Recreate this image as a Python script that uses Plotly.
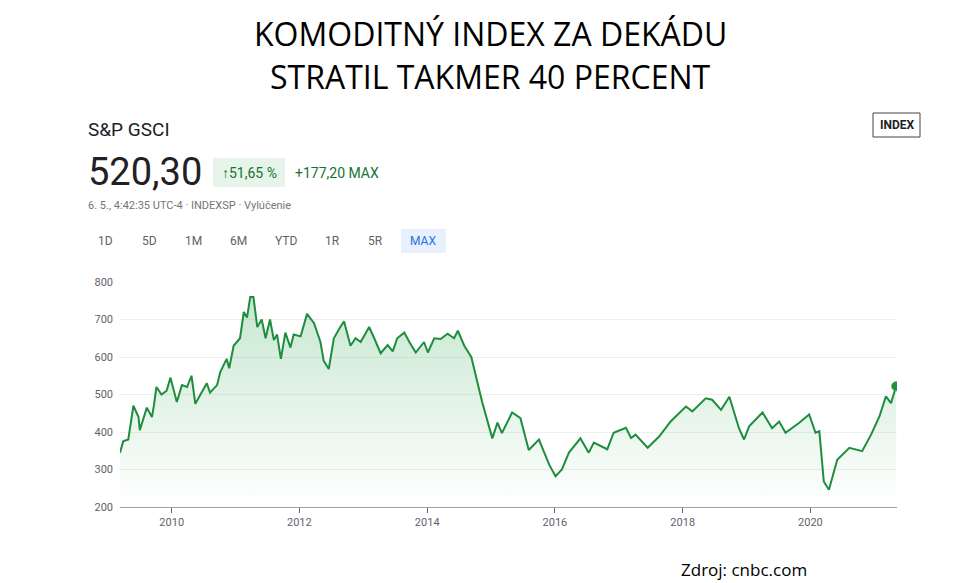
import plotly.graph_objects as go
import pandas as pd

years = [2009.19,2009.24,2009.32,2009.40,2009.48,2009.50,2009.61,2009.69,2009.72,2009.76,2009.84,2009.92,2009.98,
2010.08,2010.16,2010.24,2010.31,2010.37,2010.45,2010.55,2010.60,2010.71,2010.76,2010.86,2010.90,2010.97,
2011.07,2011.13,2011.18,2011.23,2011.28,2011.34,2011.41,2011.47,2011.54,2011.60,2011.65,2011.71,2011.78,2011.86,2011.91,
2012.02,2012.12,2012.23,2012.33,2012.38,2012.46,2012.54,2012.64,2012.70,2012.80,2012.88,2012.96,
2013.09,2013.17,2013.27,2013.38,2013.46,2013.53,2013.64,2013.72,2013.82,2013.95,
2014.01,2014.11,2014.21,2014.32,2014.42,2014.48,2014.58,2014.69,2014.79,2014.86,
2015.02,2015.10,2015.17,2015.33,2015.46,2015.59,2015.75,2015.91,
2016.01,2016.11,2016.22,2016.40,2016.53,2016.61,2016.82,2016.92,
2017.11,2017.19,2017.26,2017.45,2017.63,2017.81,
2018.05,2018.15,2018.36,2018.46,2018.60,2018.73,2018.88,2018.96,
2019.04,2019.25,2019.40,2019.51,2019.61,2019.82,2019.98,
2020.08,2020.14,2020.21,2020.29,2020.42,2020.61,2020.81,2020.95,
2021.08,2021.18,2021.26,2021.34]
values = [345,375,380,470,440,405,465,440,470,520,500,510,545,
480,525,520,550,475,500,530,505,525,560,595,570,630,
650,720,705,760,760,680,700,650,700,645,660,595,665,625,660,
655,715,690,640,590,568,650,680,695,630,650,640,
680,650,610,632,615,650,665,640,612,640,
612,650,648,662,650,670,630,600,530,480,
383,425,397,452,437,352,380,313,
282,300,345,383,345,372,354,398,
411,384,393,358,388,428,
468,455,490,486,459,494,410,380,
415,452,410,428,398,424,447,
398,402,268,246,326,358,349,393,
442,495,477,522]
y_ticks = [200,300,400,500,600,700,800]
x_tick_years = [2010,2012,2014,2016,2018,2020]

def to_date(y):
    yr = int(y)
    start = pd.Timestamp(f"{yr}-01-01")
    return start + pd.Timedelta(days=(y - yr) * 365.25)

dates = [to_date(y) for y in years]
GREEN = "#1e8e3e"

fig = go.Figure()
fig.add_trace(go.Scatter(x=dates, y=values, mode="lines", line=dict(color=GREEN, width=2),
    fill="tozeroy",
    fillgradient=dict(type="vertical", colorscale=[[0, "rgba(52,168,83,0)"], [1, "rgba(52,168,83,0.28)"]], start=200, stop=780),
    hoverinfo="skip"))
fig.add_trace(go.Scatter(x=[dates[-1]], y=[values[-1]], mode="markers",
    marker=dict(color=GREEN, size=9, line=dict(color="#4caf50", width=1))))

OFF = 8  # page body margin
L, R, T, B = 120, 897, 282, 507  # plot area in reference pixels
W, H = 969 - OFF, 583 - OFF
def px(x): return (x - L) / (R - L)
def py(y): return (B - y) / (B - T)

ann = []
def text(x, y, s, size, color="#202124", anchor="left", family="Roboto", bold=False):
    ann.append(dict(x=px(x), y=py(y), xref="paper", yref="paper", text=f"<b>{s}</b>" if bold else s,
        showarrow=False, xanchor=anchor, yanchor="middle", font=dict(size=size, color=color, family=family)))

text(490, 33, "KOMODITNÝ INDEX ZA DEKÁDU", 32, "black", "center", "Open Sans")
text(490, 77, "STRATIL TAKMER 40 PERCENT", 32, "black", "center", "Open Sans")
text(86, 129, "S&P GSCI", 19)
text(86, 172, "520,30", 38)
text(249, 173, "↑51,65 %", 14, "#137333", "center")
text(293, 173, "+177,20 MAX", 14, "#137333")
text(86, 205, "6. 5., 4:42:35 UTC-4 · INDEXSP · Vylúčenie", 11, "#70757a")
for lab, xx in zip(["1D","5D","1M","6M","YTD","1R","5R","MAX"], [105,149,193,238,286,332,375,423]):
    text(xx, 241, lab, 12, "#1a73e8" if lab == "MAX" else "#5f6368", "center")
text(897, 125, "INDEX", 12, "#202124", "center", bold=True)
text(744, 569, "Zdroj: cnbc.com", 17, "black", "center", "Open Sans")

shapes = [
    dict(type="rect", xref="paper", yref="paper", x0=px(213), x1=px(285), y0=py(187), y1=py(158),
         fillcolor="#e6f4ea", line=dict(width=0), layer="below"),
    dict(type="rect", xref="paper", yref="paper", x0=px(401), x1=px(446), y0=py(253), y1=py(229),
         fillcolor="#e8f0fe", line=dict(width=0), layer="below"),
    dict(type="rect", xref="paper", yref="paper", x0=px(873), x1=px(920), y0=py(137), y1=py(113),
         fillcolor="white", line=dict(color="#444", width=1)),
]

fig.update_layout(
    width=W, height=H, margin=dict(l=L - OFF, r=969 - R, t=T - OFF, b=583 - B),
    paper_bgcolor="white", plot_bgcolor="white", showlegend=False,
    annotations=ann, shapes=shapes,
    xaxis=dict(range=[dates[0], dates[-1] + pd.Timedelta(days=5)], tickvals=[pd.Timestamp(f"{y}-01-01") for y in x_tick_years],
        ticktext=[str(y) for y in x_tick_years], showgrid=False, showline=True, linecolor="#9aa0a6",
        ticks="outside", tickcolor="#5f6368", ticklen=5, tickfont=dict(size=11, color="#5f6368", family="Roboto")),
    yaxis=dict(range=[200, 800], tickvals=y_ticks, showgrid=True, gridcolor="#eeeeee", zeroline=False,
        tickfont=dict(size=11, color="#5f6368", family="Roboto"), ticklabelstandoff=6),
)
fig.write_html("out.html")
